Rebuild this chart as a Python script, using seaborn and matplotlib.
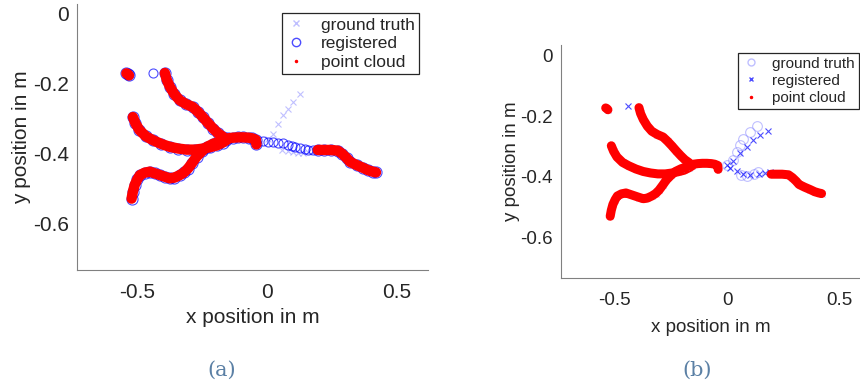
import seaborn as sns
import matplotlib.pyplot as plt
from matplotlib.lines import Line2D

sns.set_style('white')
plt.rcParams['font.family'] = ['Liberation Sans', 'DejaVu Sans']

# point cloud branches (same trajectories in both panels)
upper_x = [-0.392, -0.385, -0.373, -0.355, -0.335, -0.31, -0.285, -0.265, -0.246, -0.226, -0.206, -0.188, -0.169]
upper_y = [-0.171, -0.19, -0.21, -0.232, -0.249, -0.26, -0.268, -0.282, -0.297, -0.314, -0.33, -0.343, -0.353]
trunk_x = [-0.169, -0.15, -0.13, -0.11, -0.09, -0.07, -0.055, -0.042, -0.04]
trunk_y = [-0.36, -0.358, -0.356, -0.355, -0.355, -0.356, -0.358, -0.362, -0.375]
middle_x = [-0.515, -0.505, -0.49, -0.465, -0.438, -0.405, -0.373, -0.34, -0.308, -0.275, -0.245, -0.218, -0.192, -0.17, -0.155]
middle_y = [-0.297, -0.315, -0.334, -0.352, -0.363, -0.374, -0.382, -0.387, -0.39, -0.39, -0.387, -0.383, -0.378, -0.37, -0.363]
lower_x = [-0.52, -0.515, -0.508, -0.498, -0.488, -0.47, -0.45, -0.43, -0.41, -0.39, -0.373, -0.355, -0.335,
           -0.318, -0.303, -0.287, -0.27, -0.25, -0.23, -0.205, -0.181]
lower_y = [-0.53, -0.51, -0.491, -0.475, -0.463, -0.456, -0.453, -0.458, -0.463, -0.468, -0.472, -0.47, -0.463,
           -0.455, -0.444, -0.428, -0.41, -0.395, -0.382, -0.373, -0.367]
right_x = [0.196, 0.22, 0.245, 0.273, 0.29, 0.307, 0.32, 0.345, 0.37, 0.39, 0.408, 0.42]
right_y = [-0.391, -0.391, -0.391, -0.393, -0.402, -0.414, -0.425, -0.434, -0.442, -0.449, -0.453, -0.455]
start_x = [-0.54, -0.535, -0.53]
start_y = [-0.172, -0.174, -0.178]

# panel (a): registered (circles) where no cloud, ground truth (x)
reg_a_x = [-0.015, 0.005, 0.025, 0.045, 0.062, 0.08, 0.095, 0.11, 0.127, 0.145, 0.16, 0.177, -0.438]
reg_a_y = [-0.366, -0.367, -0.369, -0.371, -0.372, -0.376, -0.379, -0.382, -0.386, -0.388, -0.39, -0.391, -0.171]
gt_a_x = [0.005, 0.024, 0.043, 0.062, 0.082, 0.1, 0.127, 0.06, 0.08, 0.1, 0.12, 0.14, 0.16, 0.18]
gt_a_y = [-0.36, -0.344, -0.316, -0.29, -0.273, -0.253, -0.231, -0.39, -0.395, -0.398, -0.4, -0.4, -0.398, -0.395]

# panel (b): ground truth (circles), registered (x)
gt_b_x = [0.0, 0.027, 0.043, 0.058, 0.072, 0.102, 0.132, 0.062, 0.089, 0.118, 0.138]
gt_b_y = [-0.36, -0.344, -0.316, -0.294, -0.275, -0.253, -0.231, -0.393, -0.397, -0.391, -0.383]
reg_b_x = [0.0, 0.027, 0.058, 0.087, 0.117, 0.147, 0.183, 0.013, 0.043, 0.072, 0.102, 0.14, 0.17, 0.19, -0.44]
reg_b_y = [-0.36, -0.346, -0.321, -0.3, -0.278, -0.261, -0.247, -0.37, -0.38, -0.39, -0.393, -0.39, -0.386, -0.383, -0.165]

branches = [(upper_x, upper_y), (trunk_x, trunk_y), (middle_x, middle_y),
            (lower_x, lower_y), (right_x, right_y), (start_x, start_y)]
ytick_vals = [-0.6, -0.4, -0.2, 0]
ytick_labels = ['-0.6', '-0.4', '-0.2', '0']
xtick_vals = [-0.5, 0, 0.5]
xtick_labels = ['-0.5', '0', '0.5']
legend_labels = ['ground truth', 'registered', 'point cloud']

LIGHT = (0.55, 0.55, 1.0, 0.55)
BLUE = (0.0, 0.0, 1.0, 0.7)


def pts(ax, x, y, marker, color, ms, mew=0.8, hollow=False):
    sns.lineplot(x=x, y=y, ax=ax, sort=False, estimator=None, linestyle='', marker=marker,
                 markersize=ms, markeredgewidth=mew, markeredgecolor=color,
                 markerfacecolor='none' if hollow else color, color=color)


fig = plt.figure(figsize=(8.6, 3.87), dpi=100)
ax_a = fig.add_axes([0.0895, 0.3023, 0.4082, 0.6873])
ax_b = fig.add_axes([0.652, 0.2817, 0.348, 0.602])

# (a)
pts(ax_a, gt_a_x, gt_a_y, 'x', LIGHT, 4)
for bx, by in branches:
    pts(ax_a, bx, by, 'o', BLUE, 8, hollow=True)
pts(ax_a, reg_a_x, reg_a_y, 'o', BLUE, 6.5, hollow=True)
for bx, by in branches:
    sns.lineplot(x=bx, y=by, ax=ax_a, sort=False, estimator=None, color='red', linewidth=7.5,
                 solid_capstyle='round', solid_joinstyle='round')
ax_a.set_xlim(-0.73, 0.62)
ax_a.set_ylim(-0.734, 0.026)
hand_a = [Line2D([], [], ls='', marker='x', color=LIGHT, ms=4),
          Line2D([], [], ls='', marker='o', mfc='none', mec=BLUE, ms=6),
          Line2D([], [], ls='', marker='.', color='red', ms=3)]
ax_a.legend(hand_a, legend_labels, loc='upper right', bbox_to_anchor=(0.974, 0.966),
            borderaxespad=0, fontsize=12.5, fancybox=False, handlelength=1.2,
            handletextpad=0.8, borderpad=0.25, labelspacing=0.2)

# (b)
pts(ax_b, gt_b_x, gt_b_y, 'o', LIGHT, 7, hollow=True)
pts(ax_b, reg_b_x, reg_b_y, 'x', BLUE, 4)
for bx, by in branches:
    pts(ax_b, bx, by, 'x', LIGHT, 4.5)
    sns.lineplot(x=bx, y=by, ax=ax_b, sort=False, estimator=None, color='red', linewidth=6.5,
                 solid_capstyle='round', solid_joinstyle='round')
ax_b.set_xlim(-0.74, 0.591)
ax_b.set_ylim(-0.734, 0.036)
hand_b = [Line2D([], [], ls='', marker='o', mfc='none', mec=LIGHT, ms=5),
          Line2D([], [], ls='', marker='x', color=BLUE, ms=3.5),
          Line2D([], [], ls='', marker='.', color='red', ms=3)]
ax_b.legend(hand_b, legend_labels, loc='upper left', bbox_to_anchor=(0.592, 0.966),
            borderaxespad=0, fontsize=11, fancybox=False, handlelength=1.2,
            handletextpad=0.8, borderpad=0.25, labelspacing=0.2)

# font size, x tick pad, x label pad, y label pad per panel
for ax, fs, xpad, xlp, ylp in ((ax_a, 15, 9.5, 4, 1), (ax_b, 13.5, 10, 7, 0)):
    leg = ax.get_legend()
    leg.get_frame().set_edgecolor('#262626')
    leg.get_frame().set_linewidth(0.9)
    leg.get_frame().set_alpha(1)
    for t in leg.get_texts():
        t.set_color('#262626')
    sns.despine(ax=ax)
    for s in ('left', 'bottom'):
        ax.spines[s].set_color('#808080')
        ax.spines[s].set_linewidth(0.8)
    ax.set_xticks(xtick_vals, xtick_labels)
    ax.set_yticks(ytick_vals, ytick_labels)
    ax.tick_params(direction='in', length=3, color='#808080', labelcolor='#262626', labelsize=fs, pad=6)
    ax.tick_params(axis='x', pad=xpad)
    ax.set_xlabel('x position in m', fontsize=fs, color='#262626', labelpad=xlp)
    ax.set_ylabel('y position in m', fontsize=fs, color='#262626', labelpad=ylp)

fig.text(222 / 860, 1 - 370 / 387, '(a)', ha='center', va='center', color='#5b80a5',
         family='DejaVu Serif', fontsize=15)
fig.text(697 / 860, 1 - 370 / 387, '(b)', ha='center', va='center', color='#5b80a5',
         family='DejaVu Serif', fontsize=15)

fig.savefig('out.png', dpi=100)
